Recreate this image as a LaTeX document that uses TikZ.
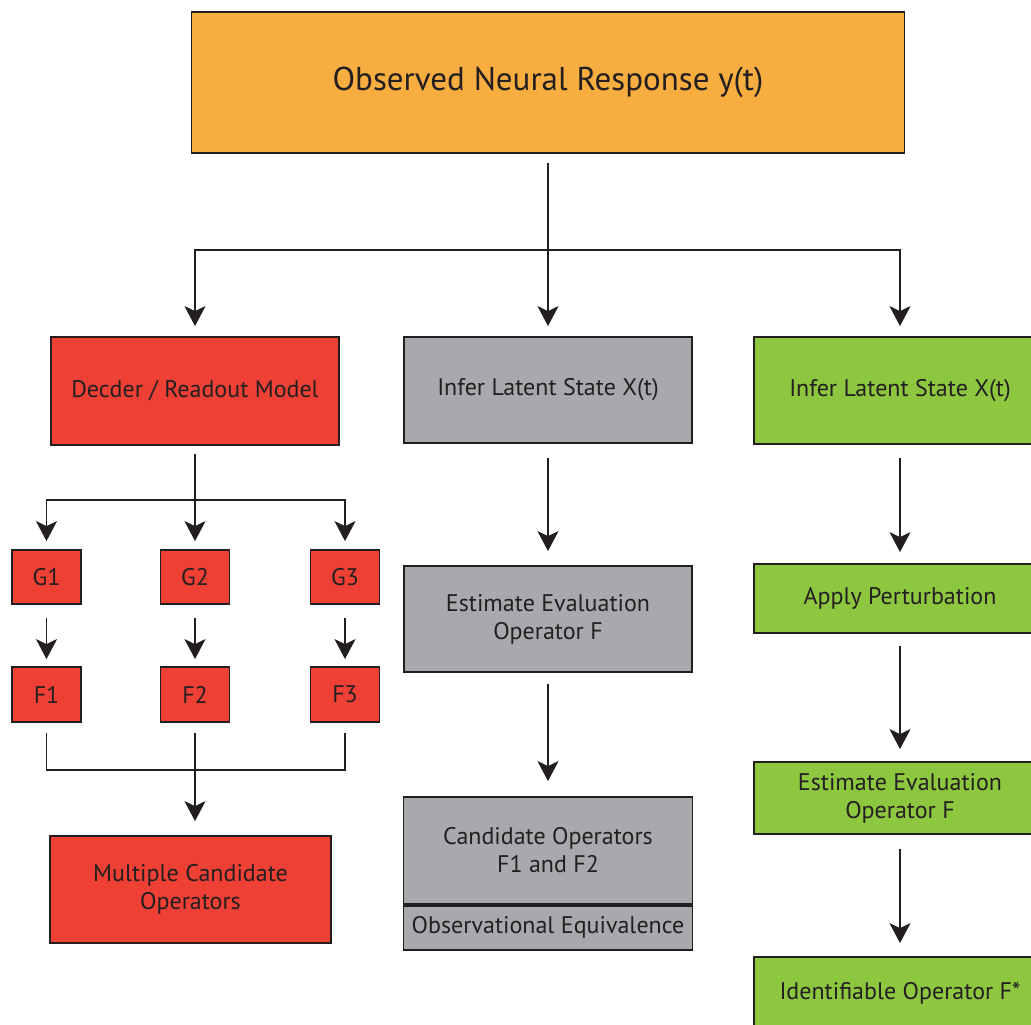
\documentclass[tikz,border=0pt]{standalone}
\usepackage{fontspec}
\setmainfont{PT Sans}
\usetikzlibrary{arrows.meta}
\definecolor{cOrange}{HTML}{F8AD40}
\definecolor{cRed}{HTML}{EE4035}
\definecolor{cGray}{HTML}{A7A9AC}
\definecolor{cGreen}{HTML}{8DC63F}
\definecolor{cText}{HTML}{231F20}
\definecolor{cLine}{HTML}{231F20}
\begin{document}
\begin{tikzpicture}[x=1pt,y=-1pt,
  box/.style={draw=cLine, line width=1.8pt, text=cText, align=center, inner sep=0pt, font=\fontsize{24}{28}\selectfont},
  orangebox/.style={box, fill=cOrange},
  redbox/.style={box, fill=cRed},
  graybox/.style={box, fill=cGray},
  greenbox/.style={box, fill=cGreen},
  conn/.style={draw=cLine, line width=1.8pt},
  arr/.style={conn, -{Stealth[length=20pt,width=21pt,inset=5pt]}},
  gap/.style={shorten <=10pt, shorten >=10pt},
]
\useasboundingbox (0,0) rectangle (1031,1025);
\clip (0,0) rectangle (1031,1025);
\fill[white] (0,0) rectangle (1031,1025);

% top
\node[orangebox, minimum width=713pt, minimum height=141pt, font=\fontsize{33}{38}\selectfont] (top) at (548,82.5) {Observed Neural Response y(t)};

% left column
\node[redbox, minimum width=288pt, minimum height=108pt] (dec) at (195,391) {Decder / Readout Model};
\node[redbox, minimum width=69pt, minimum height=54pt] (g1) at (46.5,577) {G1};
\node[redbox, minimum width=69pt, minimum height=54pt] (g2) at (195,577) {G2};
\node[redbox, minimum width=69pt, minimum height=54pt] (g3) at (345,577) {G3};
\node[redbox, minimum width=69pt, minimum height=55pt] (f1) at (46.5,694.5) {F1};
\node[redbox, minimum width=69pt, minimum height=55pt] (f2) at (195,694.5) {F2};
\node[redbox, minimum width=69pt, minimum height=55pt] (f3) at (345,694.5) {F3};
\node[redbox, minimum width=281pt, minimum height=107pt] (multi) at (190.5,889.5) {Multiple Candidate\\Operators};

% middle column
\node[graybox, minimum width=288pt, minimum height=106pt] (ginf) at (548,390) {Infer Latent State X(t)};
\node[graybox, minimum width=288pt, minimum height=106pt] (gest) at (548,619) {Estimate Evaluation\\Operator F};
\node[graybox, minimum width=289pt, minimum height=107pt] (cand) at (548,850.5) {Candidate Operators\\F1 and F2};
\node[graybox, minimum width=289pt, minimum height=44pt, anchor=north] (obs) at (cand.south) {Observational Equivalence};

% right column
\node[greenbox, minimum width=292pt, minimum height=107pt] (rinf) at (900,390.5) {Infer Latent State X(t)};
\node[greenbox, minimum width=292pt, minimum height=69pt] (pert) at (900,598.5) {Apply Perturbation};
\node[greenbox, minimum width=292pt, minimum height=72pt] (rest) at (900,798) {Estimate Evaluation\\Operator F};
\node[greenbox, minimum width=292pt, minimum height=72pt] (ident) at (900,993) {Identifiable Operator F*};

% connectors from top
\coordinate (j1) at (548,250);
\draw[conn, shorten <=9pt] (top.south) -- (j1);
\draw[arr, shorten >=10pt] (j1) -| (dec.north);
\draw[arr, shorten >=10pt] (j1) -| (rinf.north);
\draw[arr, gap] (top.south) -- (ginf.north);

% left column connectors
\coordinate (j2) at (195,500);
\draw[conn, shorten <=8pt] (dec.south) -- (j2);
\draw[arr, shorten >=8pt] (j2) -| (g1.north);
\draw[arr, shorten >=8pt] (j2) -- (g2.north);
\draw[arr, shorten >=8pt] (j2) -| (g3.north);
\draw[arr, shorten <=13pt, shorten >=7pt] (g1) -- (f1);
\draw[arr, shorten <=13pt, shorten >=7pt] (g2) -- (f2);
\draw[arr, shorten <=13pt, shorten >=7pt] (g3) -- (f3);
\coordinate (j3) at (195,770);
\draw[conn, shorten <=10pt, shorten >=10pt] (f1.south) |- (j3) -| (f3.south);
\draw[arr, shorten <=10pt, shorten >=14pt] (f2.south) -- (f2.south |- multi.north);

% middle connectors
\draw[arr, shorten <=14pt, shorten >=14pt] (ginf.south) -- (gest.north);
\draw[arr, shorten <=11pt, shorten >=15pt] (gest.south) -- (cand.north);

% right connectors
\draw[arr, shorten <=13pt, shorten >=11pt] (rinf.south) -- (pert.north);
\draw[arr, shorten <=12pt, shorten >=12pt] (pert.south) -- (rest.north);
\draw[arr, shorten <=14pt, shorten >=13pt] (rest.south) -- (ident.north);
\end{tikzpicture}
\end{document}
